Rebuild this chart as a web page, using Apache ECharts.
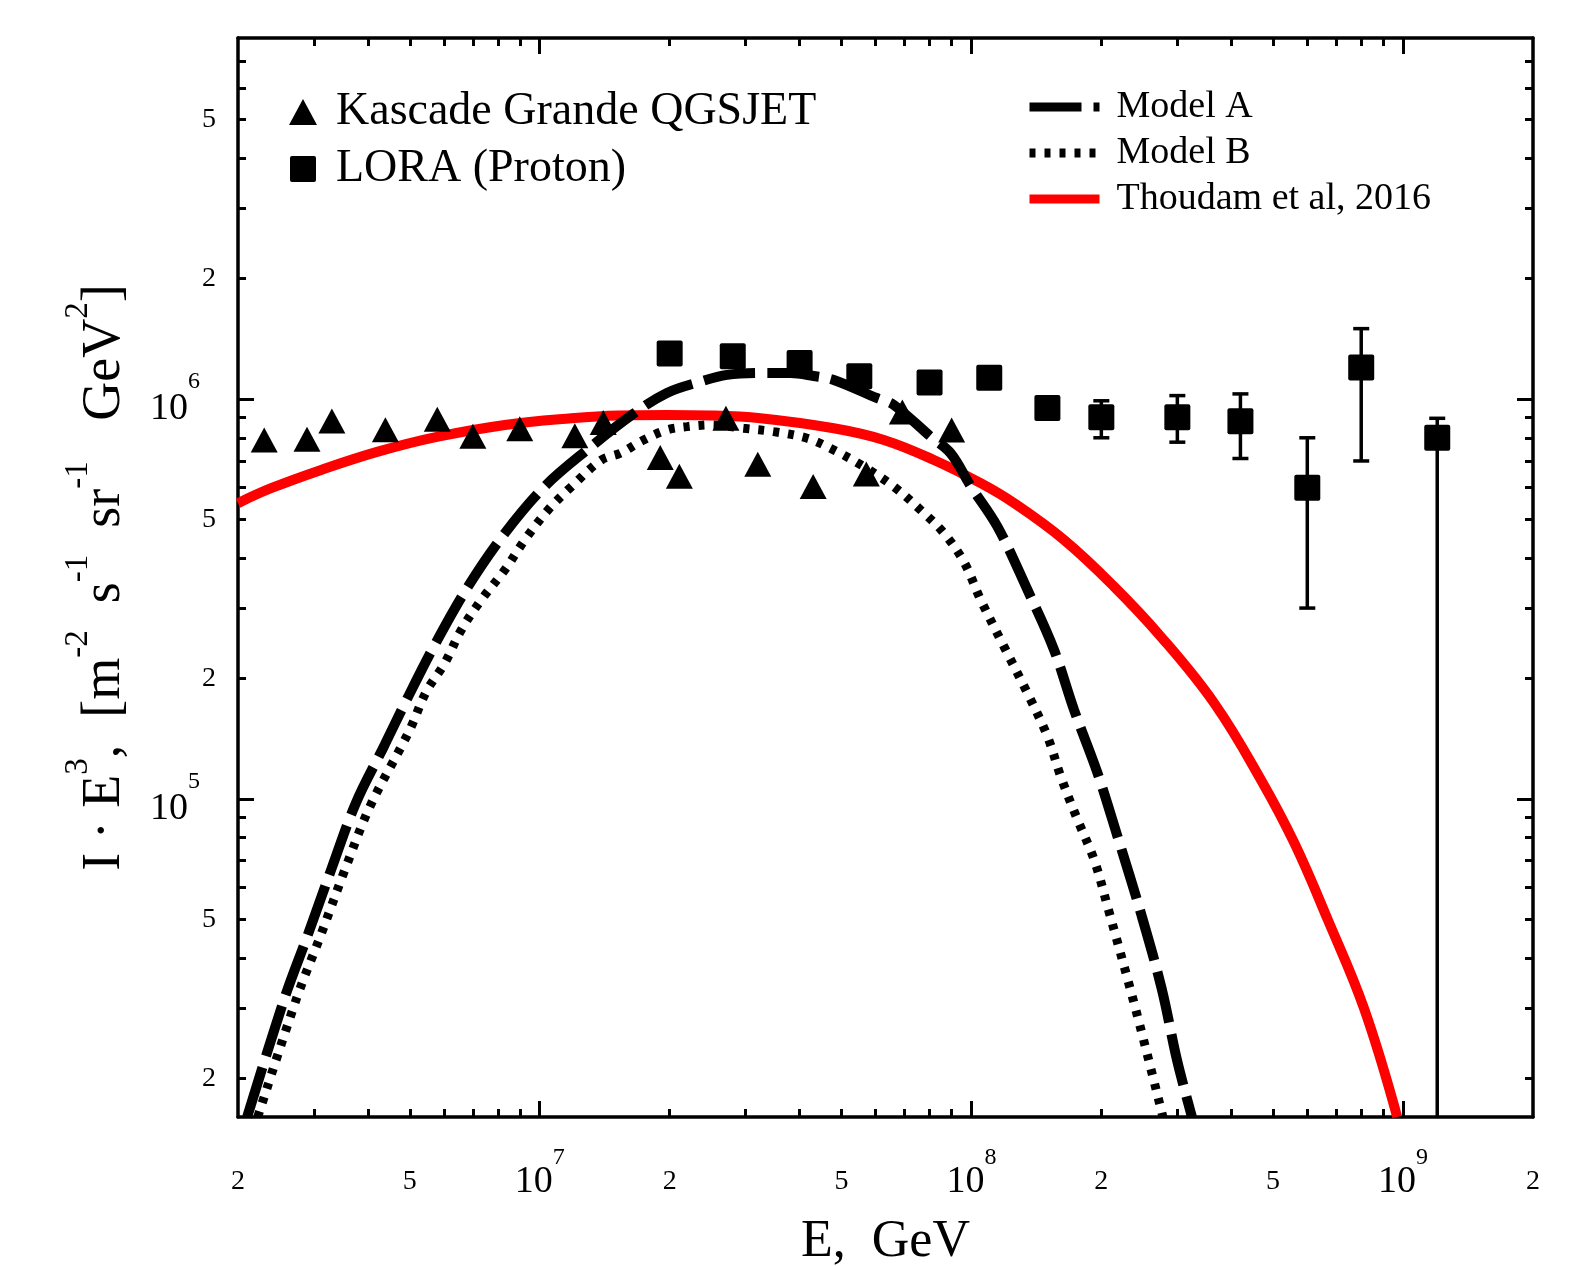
<!DOCTYPE html>
<html>
<head>
<meta charset="utf-8">
<script src="https://cdn.jsdelivr.net/npm/echarts@6/dist/echarts.min.js"></script>
<style>
  html, body { margin: 0; padding: 0; background: #fff; }
  #chart { width: 1583px; height: 1266px; }
</style>
</head>
<body>
<div id="chart"></div>
<script>
// Energy E [GeV] and flux I·E^3 [m^-2 s^-1 sr^-1 GeV^2]

// KASCADE-Grande (QGSJET) points
const kgE    = [2.30e6, 2.89e6, 3.30e6, 4.39e6, 5.79e6, 7.00e6, 8.99e6, 1.206e7, 1.403e7,
                1.902e7, 2.106e7, 2.70e7, 3.20e7, 4.30e7, 5.71e7, 6.92e7, 9.00e7];
const kgFlux = [7.90e5, 7.93e5, 8.81e5, 8.38e5, 8.90e5, 8.07e5, 8.43e5, 8.09e5, 8.73e5,
                7.14e5, 6.41e5, 8.95e5, 6.87e5, 6.04e5, 6.49e5, 9.28e5, 8.37e5];

// LORA (proton) points with error bounds (null = no bar drawn, 0 = bar reaches the axis)
const loraE    = [2.0e7, 2.8e7, 4.0e7, 5.5e7, 8.0e7, 1.10e8, 1.5e8, 2.0e8, 3.0e8, 4.2e8, 6.0e8, 8.0e8, 1.2e9];
const loraFlux = [1.30e6, 1.28e6, 1.23e6, 1.14e6, 1.10e6, 1.13e6, 9.5e5, 9.0e5, 9.0e5, 8.8e5, 6.0e5, 1.2e6, 8.0e5];
const loraLo   = [null, null, null, null, null, null, null, 8.0e5, 7.8e5, 7.1e5, 3.0e5, 7.0e5, 0];
const loraHi   = [null, null, null, null, null, null, null, 9.9e5, 1.02e6, 1.03e6, 8.0e5, 1.5e6, 8.95e5];

// Model A
const modelAE    = [2.10e6, 2.563e6, 2.902e6, 3.286e6, 3.751e6, 4.372e6, 4.864e6, 5.710e6, 6.82e6,
                    8.30e6, 1.029e7, 1.295e7, 1.647e7, 1.971e7, 2.355e7, 2.716e7, 3.245e7, 3.808e7,
                    4.307e7, 4.80e7, 6.05e7, 6.613e7, 8.046e7, 8.953e7, 9.96e7, 1.149e8, 1.349e8,
                    1.554e8, 1.729e8, 1.960e8, 2.181e8, 2.47e8, 2.762e8, 2.994e8, 3.243e8];
const modelAFlux = [1.6e4, 3.171e4, 4.565e4, 6.641e4, 9.766e4, 1.364e5, 1.728e5, 2.426e5, 3.395e5,
                    4.617e5, 6.06e5, 7.503e5, 9.18e5, 1.036e6, 1.105e6, 1.149e6, 1.162e6, 1.162e6,
                    1.142e6, 1.116e6, 1.005e6, 9.666e5, 8.053e5, 7.318e5, 6.06e5, 4.796e5, 3.331e5,
                    2.358e5, 1.669e5, 1.159e5, 8.04e4, 5.174e4, 3.338e4, 2.223e4, 1.6e4];

// Model B
const modelBE    = [2.222e6, 2.736e6, 3.111e6, 3.536e6, 4.042e6, 4.777e6, 5.039e6, 5.46e6, 6.024e6,
                    6.58e6, 7.32e6, 8.30e6, 9.235e6, 1.046e7, 1.184e7, 1.390e7, 1.536e7, 1.740e7,
                    1.971e7, 2.194e7, 2.485e7, 2.968e7, 3.483e7, 4.165e7, 4.80e7, 5.636e7, 6.613e7,
                    7.627e7, 8.64e7, 9.612e7, 1.051e8, 1.19e8, 1.349e8, 1.501e8, 1.611e8, 1.762e8,
                    1.925e8, 2.068e8, 2.404e8, 2.778e8];
const modelBFlux = [1.6e4, 3.177e4, 4.565e4, 6.641e4, 9.56e4, 1.351e5, 1.516e5, 1.854e5, 2.184e5,
                    2.645e5, 3.145e5, 3.737e5, 4.443e5, 5.28e5, 6.037e5, 7.04e5, 7.318e5, 7.9e5,
                    8.369e5, 8.53e5, 8.615e5, 8.45e5, 8.288e5, 7.98e5, 7.459e5, 6.775e5, 6.037e5,
                    5.28e5, 4.617e5, 3.913e5, 3.145e5, 2.403e5, 1.837e5, 1.431e5, 1.136e5, 8.86e4,
                    7.036e4, 5.375e4, 2.965e4, 1.6e4];

// Thoudam et al. 2016
const thoudamE    = [2.0e6, 2.386e6, 3.116e6, 4.219e6, 5.812e6, 8.30e6, 1.184e7, 1.520e7, 1.971e7,
                     2.485e7, 3.245e7, 4.80e7, 6.27e7, 8.188e7, 1.051e8, 1.256e8, 1.639e8, 2.141e8,
                     2.748e8, 3.653e8, 4.688e8, 5.602e8, 6.696e8, 8.128e8, 9.694e8];
const thoudamFlux = [5.49e5, 5.983e5, 6.648e5, 7.386e5, 8.053e5, 8.615e5, 8.953e5, 9.099e5, 9.125e5,
                     9.099e5, 8.953e5, 8.45e5, 7.9e5, 7.04e5, 6.158e5, 5.49e5, 4.443e5, 3.395e5,
                     2.545e5, 1.734e5, 1.115e5, 7.744e4, 4.978e4, 2.982e4, 1.6e4];

// Axis ranges and tick positions
const xRange = [2e6, 2e9];
const yRange = [1.6e4, 8e6];
const xTickMajor  = [1e7, 1e8, 1e9];
const xTickMinor  = [3e6, 4e6, 5e6, 6e6, 7e6, 8e6, 9e6,
                     2e7, 3e7, 4e7, 5e7, 6e7, 7e7, 8e7, 9e7,
                     2e8, 3e8, 4e8, 5e8, 6e8, 7e8, 8e8, 9e8];
const xTickLabels = [2e6, 5e6, 1e7, 2e7, 5e7, 1e8, 2e8, 5e8, 1e9, 2e9];
const yTickMajor  = [1e5, 1e6];
const yTickMinor  = [2e4, 3e4, 4e4, 5e4, 6e4, 7e4, 8e4, 9e4,
                     2e5, 3e5, 4e5, 5e5, 6e5, 7e5, 8e5, 9e5,
                     2e6, 3e6, 4e6, 5e6, 6e6, 7e6];
const yTickLabels = [2e4, 5e4, 1e5, 2e5, 5e5, 1e6, 2e6, 5e6];

const lg = Math.log10;
const FONT = '"Liberation Serif", "DejaVu Serif", serif';
const xMin = lg(xRange[0]), xMax = lg(xRange[1]);
const yMin = lg(yRange[0]), yMax = lg(yRange[1]);

const pairs = (xs, ys) => xs.map((x, i) => [lg(x), lg(ys[i])]);

// Error-bar records: [logE, logLow, logHigh, hasLowCap]
const loraErr = [];
loraE.forEach((e, i) => {
  if (loraHi[i] == null) return;
  const lo = loraLo[i] > 0 ? lg(loraLo[i]) : yMin;
  loraErr.push([lg(e), lo, lg(loraHi[i]), loraLo[i] > 0 ? 1 : 0]);
});

// "2", "5" or "10^n" labels on log decades
function tickLabel(v) {
  const e = Math.floor(v + 1e-6);
  const m = Math.round(Math.pow(10, v - e));
  return m === 1 ? '{b|10}{s|' + e + '}' : '{m|' + m + '}';
}

const labelRich = {
  m: { fontFamily: FONT, fontSize: 28, color: '#000', padding: [22, 0, 0, 0] },
  b: { fontFamily: FONT, fontSize: 38, color: '#000', padding: [17, 0, 0, 0] },
  s: { fontFamily: FONT, fontSize: 24, color: '#000', verticalAlign: 'top' }
};
const yLabelRich = {
  m: { fontFamily: FONT, fontSize: 28, color: '#000' },
  b: { fontFamily: FONT, fontSize: 38, color: '#000', padding: [20, 0, 0, 0] },
  s: { fontFamily: FONT, fontSize: 24, color: '#000', verticalAlign: 'top', padding: [0, 16, 0, 0] }
};

// Slightly rounded square marker
const SQUARE = 'path://M2,0H24Q26,0 26,2V24Q26,26 24,26H2Q0,26 0,24V2Q0,0 2,0Z';

function axisDef(dim, position, ticks, tickLen, withLine, withLabels) {
  const isX = dim === 'x';
  const def = {
    type: 'value',
    gridIndex: 0,
    position: position,
    min: isX ? xMin : yMin,
    max: isX ? xMax : yMax,
    splitLine: { show: false },
    axisLine: { show: withLine, onZero: false, lineStyle: { color: '#000', width: 3.5 } },
    axisTick: {
      show: true, inside: true, length: tickLen,
      customValues: ticks.map(lg),
      lineStyle: { color: '#000', width: 3 }
    },
    axisLabel: { show: false }
  };
  if (withLabels) {
    def.axisLabel = {
      show: true,
      customValues: (isX ? xTickLabels : yTickLabels).map(lg),
      showMinLabel: true,
      showMaxLabel: true,
      margin: isX ? 29 : 22,
      formatter: tickLabel,
      rich: isX ? labelRich : yLabelRich
    };
  }
  return def;
}

const xAxes = [
  axisDef('x', 'bottom', xTickMinor, 8, true, true),
  axisDef('x', 'bottom', xTickMajor, 16, false, false),
  axisDef('x', 'top', xTickMinor, 8, true, false),
  axisDef('x', 'top', xTickMajor, 16, false, false)
];
Object.assign(xAxes[0], {
  name: 'E,  GeV',
  nameLocation: 'middle',
  nameGap: 99,
  nameTextStyle: { fontFamily: FONT, fontSize: 52, color: '#000' }
});

const yAxes = [
  axisDef('y', 'left', yTickMinor, 8, true, true),
  axisDef('y', 'left', yTickMajor, 16, false, false),
  axisDef('y', 'right', yTickMinor, 8, true, false),
  axisDef('y', 'right', yTickMajor, 16, false, false)
];
Object.assign(yAxes[0], {
  name: '{n|I · E}{s|3}{n|,  [m}{s|-2}{n|  s}{s|-1}{n|  sr}{s|-1}{n|   GeV}{s|2}{n|]}',
  nameLocation: 'middle',
  nameRotate: 90,
  nameGap: 106,
  nameTextStyle: {
    rich: {
      n: { fontFamily: FONT, fontSize: 54, color: '#000', padding: [16, 0, 0, 0] },
      s: { fontFamily: FONT, fontSize: 33, color: '#000', verticalAlign: 'top' }
    }
  }
});

const chart = echarts.init(document.getElementById('chart'), null, { renderer: 'canvas' });

chart.setOption({
  backgroundColor: '#fff',
  animation: false,
  grid: { left: 238, right: 50, top: 38, bottom: 149, outerBoundsMode: 'none', containLabel: false },
  xAxis: xAxes,
  yAxis: yAxes,
  legend: [
    {
      orient: 'vertical',
      left: 284,
      top: 84,
      itemWidth: 28,
      itemHeight: 26,
      itemGap: 11,
      data: ['Kascade Grande QGSJET', 'LORA (Proton)'],
      textStyle: { fontFamily: FONT, fontSize: 46, color: '#000', padding: [0, 0, 0, 14] }
    },
    {
      orient: 'vertical',
      left: 1020,
      top: 83,
      itemWidth: 70,
      itemHeight: 14,
      itemGap: 8,
      data: ['Model A', 'Model B', 'Thoudam et al, 2016'],
      lineStyle: { width: 9 },
      itemStyle: { opacity: 0 },
      textStyle: { fontFamily: FONT, fontSize: 38, color: '#000', padding: [0, 0, 0, 12] }
    }
  ],
  series: [
    {
      name: 'Thoudam et al, 2016',
      type: 'line',
      data: pairs(thoudamE, thoudamFlux),
      symbol: 'none',
      smooth: 0.4,
      clip: true,
      lineStyle: { color: '#ff0000', width: 10 },
      itemStyle: { color: '#ff0000' },
      z: 2
    },
    {
      name: 'Model B',
      type: 'line',
      data: pairs(modelBE, modelBFlux),
      symbol: 'none',
      smooth: 0.35,
      clip: true,
      lineStyle: { color: '#000', width: 9, type: [6, 9], cap: 'butt' },
      itemStyle: { color: '#000' },
      z: 2
    },
    {
      name: 'Model A',
      type: 'line',
      data: pairs(modelAE, modelAFlux),
      symbol: 'none',
      smooth: 0.35,
      clip: true,
      lineStyle: { color: '#000', width: 10, type: [52, 12], cap: 'butt' },
      itemStyle: { color: '#000' },
      z: 2
    },
    {
      name: 'LORA errors',
      type: 'custom',
      data: loraErr,
      clip: true,
      silent: true,
      encode: { x: 0, y: [1, 2] },
      z: 3,
      renderItem: function (params, api) {
        const x = api.value(0);
        const top = api.coord([x, api.value(2)]);
        const bot = api.coord([x, api.value(1)]);
        const half = 8;
        const style = { stroke: '#000', lineWidth: 3.5 };
        const children = [
          { type: 'line', shape: { x1: top[0], y1: top[1], x2: bot[0], y2: bot[1] }, style: style },
          { type: 'line', shape: { x1: top[0] - half, y1: top[1], x2: top[0] + half, y2: top[1] }, style: style }
        ];
        if (api.value(3) === 1) {
          children.push({ type: 'line', shape: { x1: bot[0] - half, y1: bot[1], x2: bot[0] + half, y2: bot[1] }, style: style });
        }
        return { type: 'group', children: children };
      }
    },
    {
      name: 'Kascade Grande QGSJET',
      type: 'scatter',
      data: pairs(kgE, kgFlux),
      symbol: 'triangle',
      symbolSize: [27, 25],
      itemStyle: { color: '#000', opacity: 1 },
      z: 4
    },
    {
      name: 'LORA (Proton)',
      type: 'scatter',
      data: pairs(loraE, loraFlux),
      symbol: SQUARE,
      symbolSize: [26, 26],
      itemStyle: { color: '#000', opacity: 1 },
      z: 4
    }
  ]
});
</script>
</body>
</html>
